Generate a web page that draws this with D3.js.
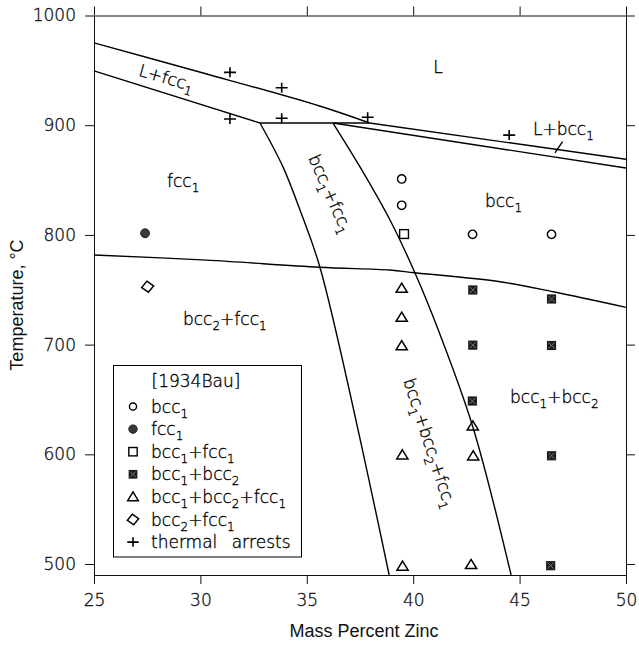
<!DOCTYPE html>
<html>
<head>
<meta charset="utf-8">
<script src="https://cdn.jsdelivr.net/npm/d3@7"></script>
<style>
  body { margin: 0; background: #fff; }
  svg { display: block; background: #fff; }
  .axis .tick text { font-family: "DejaVu Sans", sans-serif; font-size: 17px; font-weight: 200; fill: #111; stroke: #111; stroke-width: 0.35; }
  .axis path, .axis line { stroke: #111; }
  .label, .legend text { font-family: "DejaVu Sans", sans-serif; font-size: 17px; font-weight: 200; fill: #000; stroke: #000; stroke-width: 0.35; }
  .title { font-family: "Liberation Sans", Arial, sans-serif; font-size: 18px; fill: #111; }
  .boundary { fill: none; stroke: #000; stroke-width: 1.4; }
</style>
</head>
<body>
<svg width="639" height="646"></svg>
<script>
const xTicks = [25, 30, 35, 40, 45, 50];
const yTicks = [500, 600, 700, 800, 900, 1000];

// phase boundaries, [mass % Zn, temperature °C]
const liquidusFcc  = [[25, 975], [30, 948.3], [35.6, 917.5], [37.95, 902]];
const solidusFcc   = [[25, 949.5], [32.8, 902]];
const peritectic   = [[32.8, 902], [37.95, 902]];
const liquidusBcc  = [[37.95, 902], [50, 869]];
const solidusBcc   = [[36.23, 902], [50, 861]];
const fccBoundary  = [[32.8, 902], [33.88, 862], [34.68, 822.7], [35.65, 768.3], [38.87, 490]];
const bccBoundary  = [[36.23, 902], [37.5, 862], [38.91, 813.6], [40.08, 765.5], [41.18, 713.3], [42.8, 625.2], [44.6, 490]];
const bcc2Boundary = [[25, 781.7], [30.3, 777], [35.6, 770.5], [38.9, 768], [40.08, 765.5], [44.08, 757.3], [46.58, 748.2], [50, 734]];

// [1934Bau] observations
const bcc1Points        = [[39.46, 851], [39.46, 827], [42.79, 800.5], [46.5, 800.5]];
const fcc1Points        = [[27.4, 801.5]];
const bcc1Fcc1Points    = [[39.57, 800.8]];
const bcc1Bcc2Points    = [[42.8, 749.8], [46.5, 741.6], [42.8, 699.5], [46.5, 699.2], [42.78, 648.6], [46.5, 598.7], [46.46, 498.5]];
const bcc1Bcc2Fcc1Points = [[39.46, 751.3], [39.46, 724.9], [39.46, 698.9], [39.49, 599.4], [42.8, 625.8], [42.82, 598.5], [42.72, 499.5], [39.5, 498]];
const bcc2Fcc1Points    = [[27.52, 752.8]];
const thermalArrests    = [[31.39, 948.2], [31.39, 905.6], [33.82, 934.2], [33.82, 906.3], [37.86, 907.2], [44.51, 891]];

const legendTitle = "[1934Bau]";
const legendItems = [
  ["circle", "bcc{1}"],
  ["dot", "fcc{1}"],
  ["square", "bcc{1}+fcc{1}"],
  ["filledSquare", "bcc{1}+bcc{2}"],
  ["triangle", "bcc{1}+bcc{2}+fcc{1}"],
  ["diamond", "bcc{2}+fcc{1}"],
  ["plus", "thermal arrests"]
];

const regionLabels = [
  ["L", 40.94, 947.9],
  ["L+bcc{1}", 45.63, 891.1],
  ["fcc{1}", 28.43, 843.9],
  ["bcc{1}", 43.37, 825.7],
  ["bcc{2}+fcc{1}", 29.18, 717.9],
  ["bcc{1}+bcc{2}", 44.55, 646.8]
];
const slantedLabels = [
  ["L+fcc{1}", 28.38, 942.1, 16],
  ["bcc{1}+fcc{1}", 36.05, 837.1, 66],
  ["bcc{1}+bcc{2}+fcc{1}", 40.71, 610.1, 72]
];
const leader = [[46.66, 874.7], [47.02, 885]];

const svg = d3.select("svg");

const x = d3.scaleLinear().domain([25, 50]).range([94, 626]);
const y = d3.scaleLinear().domain([490, 1000]).range([575, 15.5]);

const [x0, x1] = x.range();
const [y0, y1] = y.range();

// axes, ticks outward on all four sides
svg.append("g")
    .attr("class", "axis")
    .attr("transform", `translate(0,${y0})`)
    .call(d3.axisBottom(x).tickValues(xTicks).tickSize(9).tickSizeOuter(0).tickPadding(10));

svg.append("g")
    .attr("class", "axis")
    .attr("transform", `translate(0,${y1})`)
    .call(d3.axisTop(x).tickValues(xTicks).tickSize(9).tickSizeOuter(0).tickFormat(""));

svg.append("g")
    .attr("class", "axis")
    .attr("transform", `translate(${x0},0)`)
    .call(d3.axisLeft(y).tickValues(yTicks).tickSize(9).tickSizeOuter(0).tickPadding(9).tickFormat(d3.format("d")));

svg.append("g")
    .attr("class", "axis")
    .attr("transform", `translate(${x1},0)`)
    .call(d3.axisRight(y).tickValues(yTicks).tickSize(9).tickSizeOuter(0).tickFormat(""));

svg.append("text")
    .attr("class", "title")
    .attr("x", (x0 + x1) / 2 + 4)
    .attr("y", 637)
    .attr("text-anchor", "middle")
    .text("Mass Percent Zinc");

svg.append("text")
    .attr("class", "title")
    .attr("transform", `translate(23,305) rotate(-90)`)
    .attr("text-anchor", "middle")
    .text("Temperature, °C");

// boundaries
const line = d3.line().x(d => x(d[0])).y(d => y(d[1]));
const curve = d3.line().x(d => x(d[0])).y(d => y(d[1])).curve(d3.curveCatmullRom.alpha(0.5));

const gLines = svg.append("g");
[solidusFcc, peritectic, liquidusBcc, solidusBcc].forEach(d => {
  gLines.append("path").attr("class", "boundary").attr("d", line(d));
});
[liquidusFcc, fccBoundary, bccBoundary, bcc2Boundary].forEach(d => {
  gLines.append("path").attr("class", "boundary").attr("d", curve(d));
});
gLines.append("path").attr("class", "boundary").attr("stroke-width", 1).attr("d", line(leader));

// "bcc{1}" -> bcc with subscript 1
const richText = (text, str) => {
  let down = false;
  str.split(/(\{\d\})/).filter(s => s).forEach(part => {
    const sub = part.match(/^\{(\d)\}$/);
    const t = text.append("tspan");
    if (sub) {
      t.attr("font-size", 12).attr("dy", down ? 0 : 5).text(sub[1]);
      down = true;
    } else {
      t.attr("dy", down ? -5 : 0).text(part);
      down = false;
    }
  });
  return text;
};

const gLabels = svg.append("g");
regionLabels.forEach(([str, zn, t]) => {
  richText(gLabels.append("text")
      .attr("class", "label")
      .attr("x", x(zn))
      .attr("y", y(t)), str);
});
slantedLabels.forEach(([str, zn, t, angle]) => {
  richText(gLabels.append("text")
      .attr("class", "label")
      .attr("transform", `translate(${x(zn)},${y(t)}) rotate(${angle})`)
      .attr("text-anchor", "middle")
      .attr("y", 4.5), str);
});

// markers
const drawMarker = (g, type, s = 1) => {
  if (type === "circle") {
    g.append("circle").attr("r", 4.2 * s)
        .attr("fill", "none").attr("stroke", "#000").attr("stroke-width", 1.4);
  } else if (type === "dot") {
    g.append("circle").attr("r", 4.4 * s)
        .attr("fill", "#3a3a3a").attr("stroke", "#1a1a1a").attr("stroke-width", 1);
  } else if (type === "square") {
    g.append("rect").attr("x", -4.4 * s).attr("y", -4.4 * s).attr("width", 8.8 * s).attr("height", 8.8 * s)
        .attr("fill", "none").attr("stroke", "#000").attr("stroke-width", 1.4);
  } else if (type === "filledSquare") {
    g.append("rect").attr("x", -4.6 * s).attr("y", -4.6 * s).attr("width", 9.2 * s).attr("height", 9.2 * s)
        .attr("fill", "#1c1c1c");
    g.append("path").attr("d", `M${-3 * s},${-3 * s}L${3 * s},${3 * s}M${3 * s},${-3 * s}L${-3 * s},${3 * s}`)
        .attr("stroke", "#8a8a8a").attr("stroke-width", 0.8);
  } else if (type === "triangle") {
    g.append("path").attr("d", `M0,${-5.2 * s}L${5.6 * s},${4 * s}L${-5.6 * s},${4 * s}Z`)
        .attr("fill", "none").attr("stroke", "#000").attr("stroke-width", 1.5).attr("stroke-linejoin", "miter");
  } else if (type === "diamond") {
    g.append("path").attr("d", `M0,${-5.6 * s}L${6 * s},0L0,${5.6 * s}L${-6 * s},0Z`)
        .attr("transform", "rotate(-8)")
        .attr("fill", "none").attr("stroke", "#000").attr("stroke-width", 1.5);
  } else if (type === "plus") {
    g.append("path").attr("d", `M${-6 * s},0H${6 * s}M0,${-5 * s}V${5 * s}`)
        .attr("stroke", "#000").attr("stroke-width", 1.6);
  }
};

const markerSeries = [
  ["circle", bcc1Points],
  ["dot", fcc1Points],
  ["square", bcc1Fcc1Points],
  ["filledSquare", bcc1Bcc2Points],
  ["triangle", bcc1Bcc2Fcc1Points],
  ["diamond", bcc2Fcc1Points],
  ["plus", thermalArrests]
];

const gMarkers = svg.append("g");
markerSeries.forEach(([type, points]) => {
  gMarkers.selectAll(null)
    .data(points)
    .join("g")
      .attr("transform", d => `translate(${x(d[0])},${y(d[1])})`)
      .each(function() { drawMarker(d3.select(this), type); });
});

// legend
const legend = svg.append("g")
    .attr("class", "legend")
    .attr("transform", "translate(113.5,365.5)");

legend.append("rect")
    .attr("width", 188)
    .attr("height", 191.5)
    .attr("fill", "#fff")
    .attr("stroke", "#000")
    .attr("stroke-width", 1);

legend.append("text")
    .attr("x", 38)
    .attr("y", 21)
    .text(legendTitle);

const rows = legend.selectAll("g.row")
  .data(legendItems)
  .join("g")
    .attr("class", "row")
    .attr("transform", (d, i) => `translate(0,${47 + i * 22.6})`);

rows.append("g")
    .attr("transform", "translate(19.5,-6)")
    .each(function(d) { drawMarker(d3.select(this), d[0], d[0] === "circle" ? 0.85 : 0.95); });

rows.append("text")
    .attr("x", 37.5)
    .attr("word-spacing", d => d[0] === "plus" ? 9 : 0)
    .each(function(d) { richText(d3.select(this), d[1]); });
</script>
</body>
</html>
